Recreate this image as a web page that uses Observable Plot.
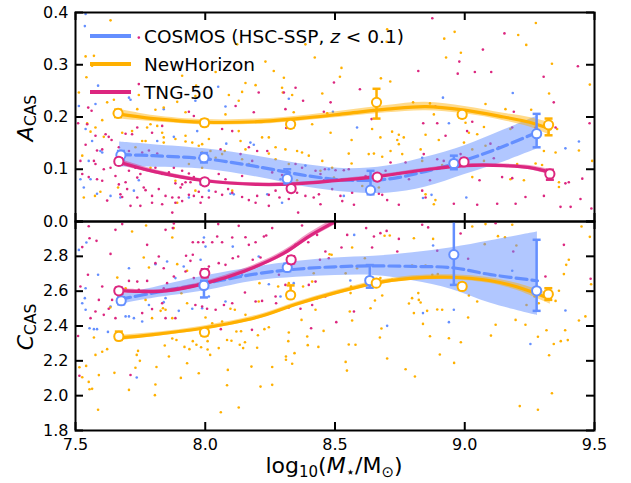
<!DOCTYPE html>
<html><head><meta charset="utf-8">
<script src="https://cdn.jsdelivr.net/npm/d3@7"></script>
<script src="https://cdn.jsdelivr.net/npm/@observablehq/plot@0.6"></script>
<style>
body{margin:0;background:#fff;}
#c{position:relative;width:631px;height:483px;background:#fff;}
#c svg{position:absolute;left:0;}
</style></head><body><div id="c"></div>
<script>
// ---------- data ----------
const seriesNames = ["COSMOS (HSC-SSP, z < 0.1)", "NewHorizon", "TNG-50"];
const seriesColors = ["#648FFF", "#FFB000", "#DC267F"];
const xTicks = [7.5, 8.0, 8.5, 9.0, 9.5];
const topYTicks = [0.0, 0.1, 0.2, 0.3, 0.4];
const botYTicks = [1.8, 2.0, 2.2, 2.4, 2.6, 2.8, 3.0];
const botYLabelTicks = [1.8, 2.0, 2.2, 2.4, 2.6, 2.8];

// scatter: [logM, A_CAS]
const topCosmosPts = [[7.539,0.397],[7.536,0.374],[7.587,0.260],[7.706,0.237],[7.712,0.233],[7.513,0.221],[7.577,0.225],[7.840,0.215],[7.962,0.231],[8.050,0.258],[8.078,0.220],[8.322,0.235],[8.492,0.210],[8.916,0.237],[9.185,0.246],
[7.539,0.177],[7.564,0.154],[7.596,0.135],[7.603,0.132],[7.519,0.081],[7.532,0.065],[7.558,0.081],[7.583,0.053],[7.635,0.049],[7.673,0.046],[7.725,0.059],[7.744,0.079],[7.815,0.154],[7.879,0.162],[7.969,0.173],[8.081,0.149],[8.174,0.151],[8.187,0.147],[8.386,0.107],[8.476,0.100],[8.290,0.081],[8.239,0.052],[8.296,0.036],[8.110,0.052],[8.014,0.059],[7.937,0.046],[7.982,0.071],[8.219,0.103],[8.097,0.053],[7.551,0.116],
[8.585,0.180],[8.939,0.188],[8.836,0.122],[8.872,0.051],[9.006,0.046],[8.839,0.045],[8.534,0.049],[9.440,0.153],[9.388,0.140]];
const topNHPts = [[7.635,0.385],[7.539,0.316],[7.571,0.317],[7.564,0.298],[7.542,0.276],[7.513,0.247],[7.622,0.228],[7.648,0.233],[7.744,0.242],[7.738,0.215],[7.808,0.214],[7.840,0.218],[7.892,0.229],[7.911,0.279],[7.924,0.209],[7.962,0.240],[7.965,0.260],[8.040,0.286],[8.123,0.339],[8.129,0.231],[8.142,0.248],[8.155,0.265],[8.194,0.261],[8.232,0.306],[8.264,0.288],[8.296,0.256],[8.303,0.275],[8.299,0.247],[8.335,0.242],[8.341,0.209],[8.386,0.339],[8.422,0.314],[8.451,0.245],[8.470,0.207],[8.078,0.205],[8.091,0.242],
[8.701,0.368],[8.961,0.363],[8.921,0.350],[9.206,0.357],[9.274,0.380],[9.237,0.338],[8.985,0.323],[8.928,0.314],[8.525,0.294],[8.519,0.277],[8.677,0.274],[8.713,0.268],[9.336,0.302],[9.482,0.262],[9.325,0.245],[8.801,0.228],[8.866,0.226],[9.080,0.225],[9.157,0.215],[9.256,0.214],[8.881,0.205],[8.699,0.344],
[7.545,0.188],[7.577,0.180],[7.558,0.172],[7.603,0.194],[7.609,0.162],[7.526,0.126],[7.532,0.046],[7.575,0.049],[7.596,0.057],[7.680,0.170],[7.718,0.173],[7.757,0.154],[7.770,0.154],[7.731,0.142],[7.776,0.180],[7.789,0.186],[7.815,0.183],[7.834,0.170],[7.840,0.161],[7.840,0.151],[7.885,0.158],[7.924,0.164],[7.924,0.153],[7.950,0.151],[7.975,0.145],[7.988,0.148],[8.014,0.158],[7.988,0.132],[8.020,0.135],[8.040,0.122],[8.065,0.129],[8.075,0.135],[8.129,0.173],[8.136,0.154],[8.155,0.138],[8.219,0.161],[8.245,0.161],[8.271,0.142],[8.309,0.138],[8.354,0.135],[8.373,0.132],[8.399,0.126],[8.412,0.186],[8.444,0.097],[8.451,0.116],[8.483,0.170],[8.489,0.103],[8.496,0.084],[8.354,0.079],[8.322,0.110],[8.271,0.119],[8.245,0.130],[8.168,0.110],[8.136,0.110],[8.104,0.059],[7.988,0.103],[7.937,0.110],[7.885,0.078],[7.892,0.036],[7.962,0.059],[7.664,0.065],[7.763,0.100],[7.789,0.103],[8.142,0.119],
[8.564,0.156],[8.553,0.130],[8.564,0.111],[8.643,0.177],[8.675,0.161],[8.720,0.172],[8.746,0.166],[8.746,0.148],[8.740,0.156],[8.759,0.129],[8.765,0.161],[8.849,0.166],[8.900,0.156],[9.016,0.170],[9.048,0.167],[9.074,0.181],[9.080,0.145],[9.029,0.138],[8.997,0.151],[9.003,0.189],[8.830,0.138],[8.714,0.135],[8.650,0.130],[8.630,0.129],[8.682,0.124],[8.836,0.116],[8.913,0.108],[9.074,0.116],[9.176,0.177],[9.202,0.110],[9.273,0.111],[9.305,0.135],[9.350,0.132],[9.356,0.177],[9.440,0.136],[9.491,0.116],[9.298,0.108],[9.363,0.075],[9.363,0.066],[9.228,0.079],[9.176,0.081],[8.887,0.041],[8.849,0.052],[9.029,0.085],[8.605,0.068],[8.624,0.062],[8.669,0.065],[8.881,0.033]];
const topTNGPts = [[7.744,0.352],[7.744,0.263],[7.549,0.218],[7.562,0.212],[7.937,0.210],[7.956,0.202],[8.117,0.221],[8.206,0.247],[8.303,0.247],[8.348,0.256],[8.377,0.231],[8.309,0.215],[8.187,0.209],[8.457,0.210],[8.483,0.228],[8.496,0.266],
[8.875,0.389],[9.153,0.360],[9.070,0.329],[8.979,0.306],[8.973,0.283],[9.039,0.286],[9.102,0.286],[8.821,0.288],[8.596,0.253],[9.304,0.277],[9.436,0.297],[9.343,0.228],[9.189,0.210],[8.887,0.220],
[7.510,0.188],[7.545,0.186],[7.577,0.164],[7.616,0.167],[7.628,0.162],[7.639,0.156],[7.693,0.168],[7.718,0.167],[7.738,0.180],[7.795,0.170],[7.834,0.183],[7.539,0.147],[7.583,0.136],[7.603,0.138],[7.667,0.142],[7.706,0.135],[7.757,0.132],[7.783,0.136],[7.815,0.130],[7.519,0.116],[7.571,0.116],[7.577,0.110],[7.609,0.100],[7.635,0.103],[7.654,0.087],[7.706,0.097],[7.731,0.103],[7.738,0.084],[7.750,0.091],[7.526,0.091],[7.551,0.085],[7.583,0.081],[7.603,0.078],[7.667,0.071],[7.693,0.075],[7.699,0.062],[7.673,0.052],[7.680,0.047],[7.738,0.046],[7.763,0.065],[7.770,0.060],[7.795,0.049],[7.821,0.062],[7.847,0.049],[7.873,0.046],[7.885,0.036],[7.898,0.046],[7.911,0.039],[7.937,0.051],[7.956,0.049],[7.975,0.057],[7.988,0.047],[7.982,0.036],[8.014,0.046],[8.040,0.057],[8.065,0.051],[8.088,0.062],[8.104,0.055],[8.142,0.047],[8.168,0.041],[8.194,0.036],[8.200,0.049],[8.245,0.051],[8.271,0.059],[8.286,0.046],[8.322,0.043],[8.354,0.055],[8.386,0.049],[8.418,0.046],[8.438,0.052],[8.444,0.033],[8.489,0.062],[7.795,0.036],[7.750,0.030],[7.712,0.030],[7.622,0.040],[7.834,0.033],[7.873,0.017],[7.905,0.065],[7.924,0.075],[7.943,0.075],[7.885,0.087],[7.860,0.094],[7.834,0.091],[7.808,0.103],[7.879,0.103],[7.911,0.097],[7.937,0.092],[7.956,0.085],[8.104,0.113],[8.142,0.087],[8.078,0.081],[8.052,0.091],[8.059,0.138],[8.065,0.177],[8.104,0.173],[8.136,0.129],[8.168,0.142],[8.200,0.135],[8.239,0.135],[8.181,0.116],[8.258,0.094],[8.296,0.089],[8.348,0.110],[8.373,0.103],[8.425,0.097],[8.444,0.091],[8.457,0.079],[8.461,0.100],[8.312,0.179],[8.358,0.017],[8.245,0.030],[7.885,0.073],[7.911,0.071],
[8.641,0.196],[8.840,0.188],[8.894,0.188],[9.029,0.191],[9.009,0.173],[8.926,0.164],[8.842,0.129],[8.772,0.113],[8.714,0.113],[8.894,0.119],[8.919,0.116],[8.984,0.129],[9.099,0.149],[9.131,0.142],[9.112,0.121],[9.183,0.180],[9.273,0.180],[9.350,0.180],[9.481,0.188],[8.502,0.098],[8.534,0.098],[8.553,0.100],[8.618,0.087],[8.695,0.097],[8.740,0.092],[8.785,0.081],[8.866,0.079],[9.057,0.079],[9.144,0.085],[9.183,0.083],[9.453,0.082],[9.401,0.075],[9.388,0.073],[9.488,0.025],[9.446,0.043],[9.408,0.028],[9.369,0.028],[9.305,0.049],[9.234,0.047],[9.196,0.034],[9.125,0.034],[9.048,0.032],[8.958,0.034],[8.849,0.046],[8.836,0.059],[8.746,0.032],[8.701,0.041],[8.682,0.051],[8.669,0.053],[8.566,0.055],[8.521,0.049],[8.573,0.032],[8.528,0.039]];

// scatter: [logM, C_CAS]
const botCosmosPts = [[7.542,2.879],[7.513,2.837],[7.706,2.732],[7.808,2.755],[7.853,2.770],[7.885,2.675],[7.917,2.742],[7.982,2.780],[7.995,2.908],[8.001,2.856],[8.106,2.856],[8.187,2.736],[8.206,2.799],[8.341,2.646],[8.290,2.569],[8.245,2.640],[8.142,2.694],[8.078,2.541],[8.014,2.569],[7.988,2.502],[7.950,2.499],[7.898,2.487],[7.840,2.537],[7.847,2.560],[7.783,2.521],[7.725,2.445],[7.706,2.455],[7.693,2.455],[7.757,2.426],[7.635,2.512],[7.587,2.694],[7.539,2.617],[7.526,2.531],[7.539,2.493],[7.536,2.560],
[8.574,2.923],[8.878,2.862],[8.559,2.661],[9.183,2.717],[8.839,2.474],[8.939,2.422],[8.958,2.493],[9.388,2.489],[8.701,2.401],
[7.554,2.387],[7.571,2.382],[7.583,2.382],[7.625,2.366],[7.736,2.104],[9.253,2.297]];
const botNHPts = [[7.772,2.977],[7.718,2.943],[7.879,2.962],[7.873,2.908],[7.763,2.793],[7.783,2.736],[7.892,2.755],[7.930,2.717],[7.908,2.588],[7.930,2.531],[8.001,2.449],[8.027,2.416],[8.065,2.426],[8.093,2.416],[8.097,2.499],[8.114,2.493],[8.155,2.464],[8.209,2.646],[8.206,2.541],[8.281,2.627],[8.322,2.646],[8.377,2.627],[8.412,2.655],[8.418,2.703],[8.425,2.493],[8.371,2.435],[8.479,2.812],[8.487,2.809],[7.661,2.678],[7.770,2.550],[7.795,2.445],[7.828,2.487],[7.837,2.502],[7.873,2.445],[7.847,2.493],[7.693,2.617],[7.634,2.506],
[8.691,2.918],[8.711,2.920],[8.804,2.904],[8.878,2.900],[9.029,2.971],[9.080,2.985],[9.128,2.916],[9.155,2.910],[9.183,2.981],[9.077,2.870],[9.199,2.862],[8.566,2.851],[8.615,2.789],[8.797,2.747],[8.849,2.747],[8.896,2.698],[8.842,2.678],[8.875,2.694],[8.541,2.703],[8.585,2.732],[8.675,2.675],[8.720,2.665],[8.562,2.627],[8.560,2.589],[8.682,2.575],[8.654,2.546],[8.637,2.502],[8.557,2.483],[8.566,2.432],[8.785,2.529],[8.821,2.589],[8.823,2.550],[8.797,2.560],[8.830,2.535],[8.804,2.474],[8.855,2.487],[8.894,2.495],[8.913,2.493],[8.839,2.412],[9.016,2.575],[9.048,2.541],[9.013,2.449],[9.119,2.407],[9.196,2.435],[9.234,2.407],[9.269,2.569],[9.285,2.531],[9.350,2.544],[9.363,2.602],[9.382,2.698],[9.391,2.751],[9.401,2.780],[9.450,2.971],[9.482,2.912],[9.487,2.640],[9.440,2.432],[9.465,2.455],[9.238,2.521],
[7.571,2.334],[7.622,2.267],[7.603,2.252],[7.577,2.234],[7.515,2.163],[7.541,2.171],[7.526,2.106],[7.590,2.118],[7.650,2.131],[7.551,2.079],[7.554,2.037],[7.564,2.039],[7.706,2.033],[7.587,1.919],[7.741,2.257],[7.736,2.234],[7.748,2.200],[7.731,2.160],[7.812,2.165],[7.808,2.064],[7.806,2.003],[7.860,2.225],[7.844,2.288],[7.889,2.320],[7.873,2.328],[7.920,2.280],[7.939,2.267],[7.952,2.313],[7.966,2.292],[7.984,2.278],[8.009,2.313],[8.019,2.234],[8.009,2.265],[7.930,2.186],[7.975,2.129],[7.906,2.102],[8.052,2.273],[8.084,2.320],[8.101,2.315],[8.120,2.368],[8.138,2.370],[8.153,2.307],[8.133,2.292],[8.146,2.273],[8.200,2.275],[8.203,2.347],[8.178,2.167],[8.087,2.148],[8.084,2.060],[8.060,1.905],[8.129,1.932],[8.228,2.382],[8.245,2.393],[8.213,2.052],[8.258,2.165],[8.258,2.062],[8.322,2.363],[8.320,2.313],[8.311,2.225],[8.311,2.206],[8.335,2.183],[8.344,2.244],[8.395,2.290],[8.436,2.280],[8.456,2.372],[8.393,2.340],
[8.553,2.294],[8.579,2.292],[8.541,2.194],[8.546,2.144],[8.679,2.386],[8.673,2.334],[8.701,2.213],[8.772,2.152],[8.808,2.110],[8.866,2.341],[8.939,2.330],[8.985,2.307],[8.904,2.236],[8.959,2.188],[9.101,2.345],[9.282,2.338],[9.315,2.376],[9.387,2.376],[9.343,2.297],[9.370,2.313],[9.397,2.319],[9.325,2.232],[9.336,2.014],[9.212,1.940],[9.282,1.919]];
const botTNGPts = [[7.551,2.973],[7.654,2.952],[7.680,2.985],[7.847,2.952],[7.875,2.962],[7.879,2.989],[8.050,2.985],[8.129,2.975],[8.258,2.962],[8.373,2.977],[7.581,2.889],[7.635,2.814],[7.526,2.853],[7.554,2.904],[7.776,2.866],[7.821,2.799],[7.808,2.761],[7.840,2.732],[7.952,2.881],[7.973,2.881],[7.992,2.881],[8.027,2.881],[8.046,2.914],[8.065,2.881],[8.104,2.908],[8.155,2.910],[8.168,2.866],[8.194,2.881],[8.226,2.914],[8.235,2.920],[8.127,2.799],[8.106,2.789],[8.183,2.780],[8.213,2.793],[8.078,2.751],[8.052,2.761],[8.014,2.742],[7.943,2.774],[7.926,2.803],[7.952,2.809],[7.924,2.713],[7.956,2.675],[7.879,2.684],[7.853,2.646],[7.840,2.617],[7.834,2.531],[7.776,2.659],[7.738,2.655],[7.706,2.659],[7.744,2.608],[7.680,2.583],[7.641,2.550],[7.628,2.499],[7.590,2.550],[7.577,2.483],[7.558,2.445],[7.609,2.464],[7.654,2.445],[7.757,2.474],[7.795,2.497],[7.847,2.445],[7.885,2.445],[7.962,2.521],[7.988,2.512],[8.007,2.499],[8.040,2.493],[8.072,2.521],[8.104,2.531],[8.153,2.592],[8.194,2.541],[8.219,2.544],[8.273,2.531],[8.322,2.506],[8.367,2.499],[8.412,2.521],[8.431,2.560],[8.463,2.569],[8.425,2.655],[8.399,2.636],[8.309,2.636],[8.284,2.694],[8.271,2.569],[8.348,2.866],[8.397,2.881],[8.431,2.923],[8.442,2.780],[8.463,2.828],[8.476,2.789],[7.519,2.627],[7.548,2.694],[7.603,2.627],
[8.620,2.962],[8.547,2.923],[8.675,2.933],[8.699,2.946],[8.650,2.914],[8.746,2.900],[8.525,2.851],[8.643,2.851],[8.740,2.828],[8.836,2.981],[8.859,2.966],[8.894,2.832],[8.984,2.931],[9.013,2.786],[9.119,2.990],[9.187,2.828],[9.382,2.866],[9.311,2.684],[9.485,2.671],[8.573,2.483],[8.505,2.422],
[7.510,2.343],[7.515,2.114],[7.712,2.119],[8.060,2.382],[8.180,2.378],[8.408,2.387]];

// fitted trends: [logM, median, lower, upper]
const topCosmosFit = [[7.67,0.128,0.104,0.152],[7.8,0.126,0.104,0.147],[8.0,0.12,0.1,0.139],[8.2,0.105,0.085,0.125],[8.4,0.087,0.065,0.108],[8.55,0.079,0.056,0.101],[8.7,0.081,0.054,0.106],[8.85,0.096,0.066,0.123],[9.0,0.117,0.09,0.145],[9.15,0.144,0.114,0.175],[9.28,0.171,0.139,0.202]];
const topNHFit = [[7.66,0.206,0.196,0.216],[7.8,0.197,0.191,0.203],[8.0,0.19,0.185,0.195],[8.2,0.191,0.186,0.196],[8.4,0.199,0.194,0.204],[8.55,0.207,0.201,0.213],[8.7,0.215,0.208,0.222],[8.85,0.22,0.212,0.228],[9.0,0.213,0.206,0.22],[9.15,0.2,0.193,0.207],[9.25,0.19,0.181,0.199],[9.33,0.177,0.165,0.189]];
const topTNGFit = [[7.66,0.115,0.109,0.121],[7.8,0.096,0.092,0.1],[8.0,0.078,0.075,0.081],[8.2,0.071,0.068,0.074],[8.35,0.072,0.069,0.075],[8.5,0.078,0.075,0.081],[8.66,0.086,0.083,0.089],[8.85,0.099,0.096,0.102],[9.0,0.107,0.104,0.11],[9.15,0.107,0.104,0.11],[9.25,0.103,0.099,0.107],[9.33,0.094,0.089,0.099]];
const botCosmosFit = [[7.67,2.553,2.525,2.582],[7.8,2.59,2.56,2.62],[8.0,2.645,2.603,2.688],[8.2,2.70,2.66,2.74],[8.35,2.726,2.68,2.77],[8.5,2.74,2.69,2.79],[8.65,2.745,2.69,2.80],[8.8,2.742,2.66,2.82],[8.95,2.735,2.61,2.85],[9.1,2.695,2.53,2.89],[9.28,2.66,2.46,2.94]];
const botNHFit = [[7.66,2.33,2.315,2.345],[7.8,2.35,2.338,2.362],[8.0,2.39,2.378,2.402],[8.2,2.45,2.438,2.462],[8.35,2.525,2.513,2.537],[8.5,2.59,2.578,2.602],[8.65,2.645,2.633,2.657],[8.8,2.675,2.662,2.688],[8.95,2.68,2.666,2.694],[9.1,2.66,2.644,2.676],[9.2,2.625,2.605,2.645],[9.33,2.555,2.525,2.585]];
const botTNGFit = [[7.66,2.605,2.593,2.617],[7.75,2.598,2.587,2.609],[7.85,2.602,2.591,2.613],[8.0,2.645,2.633,2.657],[8.15,2.715,2.702,2.728],[8.3,2.815,2.8,2.83],[8.4,2.915,2.898,2.932],[8.5,3.0,2.98,3.02],[8.6,3.09,3.065,3.115]];

// binned medians with errors: [logM, value, lower, upper]
const topCosmosBins = [[7.675,0.127,0.118,0.135],[7.995,0.122,0.113,0.131],[8.316,0.082,0.073,0.100],[8.637,0.060,0.052,0.097],[8.958,0.111,0.100,0.126],[9.277,0.168,0.142,0.206]];
const topNHBins = [[7.664,0.207,0.200,0.214],[7.997,0.189,0.183,0.195],[8.329,0.186,0.180,0.193],[8.660,0.228,0.197,0.254],[8.990,0.205,0.199,0.211],[9.323,0.185,0.165,0.197]];
const topTNGBins = [[7.667,0.115,0.109,0.121],[7.998,0.076,0.071,0.081],[8.331,0.063,0.058,0.068],[8.663,0.085,0.080,0.090],[8.997,0.114,0.108,0.120],[9.328,0.091,0.080,0.099]];
const botCosmosBins = [[7.676,2.545,2.525,2.565],[7.995,2.633,2.564,2.66],[8.316,2.736,2.715,2.757],[8.634,2.661,2.62,2.75],[8.958,2.81,2.636,3.05],[9.277,2.602,2.487,2.895]];
const botNHBins = [[7.667,2.34,2.32,2.368],[7.997,2.364,2.345,2.385],[8.329,2.578,2.56,2.633],[8.659,2.646,2.63,2.665],[8.990,2.627,2.61,2.645],[9.322,2.583,2.55,2.617]];
const botTNGBins = [[7.667,2.602,2.585,2.62],[7.998,2.703,2.68,2.726],[8.331,2.78,2.76,2.80]];

// ---------- drawing ----------
const W = 631, ML = 75, MR = 37;
const FONT = '"DejaVu Sans", sans-serif';
const rows = arr => arr.map(([x, y, lo, hi]) => ({x, y, lo, hi}));
const capSymbol = {draw(ctx, size) { const r = Math.sqrt(size / Math.PI); ctx.moveTo(-r, 0); ctx.lineTo(r, 0); }};

function panel({height, marginTop, marginBottom, yDomain, yTicks, yLabelTicks, scatters, fits, bins, xLabels}) {
  const frameW = W - ML - MR, frameH = height - marginTop - marginBottom;
  const marks = [];
  scatters.forEach((pts, i) => marks.push(Plot.dot(pts, {x: d => d[0], y: d => d[1], r: 1.3, fill: seriesColors[i], clip: true})));
  fits.forEach((f, i) => {
    const R = rows(f);
    marks.push(Plot.areaY(R, {x: "x", y1: "lo", y2: "hi", fill: seriesColors[i], fillOpacity: i === 0 ? 0.5 : 0.45, curve: "catmull-rom", clip: true}));
    marks.push(Plot.line(R, {x: "x", y: "y", stroke: seriesColors[i], strokeWidth: 3.2, strokeDasharray: i === 0 ? "11,5" : null, curve: "catmull-rom", clip: true}));
  });
  bins.forEach((b, i) => {
    const R = rows(b);
    marks.push(Plot.ruleX(R, {x: "x", y1: "lo", y2: "hi", stroke: seriesColors[i], strokeWidth: 2.5, clip: true}));
    marks.push(Plot.dot(R, {x: "x", y: "lo", symbol: capSymbol, r: 4, stroke: seriesColors[i], strokeWidth: 2.5, fill: "none", clip: true}));
    marks.push(Plot.dot(R, {x: "x", y: "hi", symbol: capSymbol, r: 4, stroke: seriesColors[i], strokeWidth: 2.5, fill: "none", clip: true}));
    marks.push(Plot.dot(R, {x: "x", y: "y", r: 4.6, stroke: seriesColors[i], strokeWidth: 2, fill: "white"}));
  });
  marks.push(Plot.tickX(xTicks, {x: d => d, insetTop: frameH - 8, stroke: "black", strokeWidth: 2}));
  marks.push(Plot.tickX(xTicks, {x: d => d, insetBottom: frameH - 8, stroke: "black", strokeWidth: 2}));
  marks.push(Plot.tickY(yTicks, {y: d => d, insetRight: frameW - 8, stroke: "black", strokeWidth: 2}));
  marks.push(Plot.tickY(yTicks, {y: d => d, insetLeft: frameW - 8, stroke: "black", strokeWidth: 2}));
  marks.push(Plot.frame({stroke: "black", strokeWidth: 2}));
  marks.push(Plot.axisY({ticks: yLabelTicks, tickSize: 0, tickPadding: 7, tickFormat: d3.format(".1f"), fontSize: 16, label: null}));
  if (xLabels) marks.push(Plot.axisX({ticks: xTicks, tickSize: 0, tickPadding: 8, tickFormat: d3.format(".1f"), fontSize: 16, label: null}));
  return Plot.plot({
    width: W, height, marginLeft: ML, marginRight: MR, marginTop, marginBottom,
    x: {domain: [7.5, 9.5], axis: null},
    y: {domain: yDomain, axis: null},
    style: {background: "transparent", fontFamily: FONT, fontSize: "16px", overflow: "visible", color: "black"},
    marks
  });
}

const container = document.getElementById("c");
const topSvg = panel({height: 232, marginTop: 12, marginBottom: 11, yDomain: [0, 0.4], yTicks: topYTicks, yLabelTicks: topYTicks,
  scatters: [topCosmosPts, topNHPts, topTNGPts], fits: [topCosmosFit, topNHFit, topTNGFit], bins: [topCosmosBins, topNHBins, topTNGBins], xLabels: false});
topSvg.style.top = "0px";
container.appendChild(topSvg);
const botSvg = panel({height: 274, marginTop: 12, marginBottom: 53, yDomain: [1.8, 3.0], yTicks: botYTicks, yLabelTicks: botYLabelTicks,
  scatters: [botCosmosPts, botNHPts, botTNGPts], fits: [botCosmosFit, botNHFit, botTNGFit], bins: [botCosmosBins, botNHBins, botTNGBins], xLabels: true});
botSvg.style.top = "209px";
container.appendChild(botSvg);

// y-axis labels
function yLabel(svg, letter) {
  const t = d3.select(svg).append("text").attr("transform", "translate(33,118) rotate(-90)")
    .attr("text-anchor", "middle").attr("font-family", FONT).attr("fill", "black");
  t.append("tspan").attr("font-size", 22).attr("font-style", "italic").text(letter);
  t.append("tspan").attr("font-size", 15.5).attr("dy", 3).text("CAS");
}
yLabel(topSvg, "A");
yLabel(botSvg, "C");

// x-axis label
{
  const t = d3.select(botSvg).append("text").attr("x", 334).attr("y", 264).attr("text-anchor", "middle")
    .attr("font-family", FONT).attr("font-size", 22).attr("fill", "black");
  t.append("tspan").text("log");
  t.append("tspan").attr("font-size", 15).attr("dy", 4).text("10");
  t.append("tspan").attr("dy", -4).text("(");
  t.append("tspan").attr("font-style", "italic").text("M");
  t.append("tspan").attr("font-size", 15).attr("dy", 4).text("⋆");
  t.append("tspan").attr("dy", -4).text("/M");
  t.append("tspan").attr("font-size", 15).attr("dy", 4).text("⊙");
  t.append("tspan").attr("dy", -4).text(")");
}

// legend
{
  const g = d3.select(topSvg).append("g").attr("font-family", FONT).attr("font-size", 18.5)
    .attr("fill", "black").attr("text-anchor", "start");
  seriesNames.forEach((name, i) => {
    const y = 36 + i * 28;
    g.append("line").attr("x1", 90).attr("x2", 131).attr("y1", y).attr("y2", y)
      .attr("stroke", seriesColors[i]).attr("stroke-width", 4);
    const t = g.append("text").attr("x", 144).attr("y", y + 7).attr("text-anchor", "start");
    if (i === 0) {
      const parts = name.split("z");
      t.append("tspan").text(parts[0]);
      t.append("tspan").attr("font-style", "italic").text("z");
      t.append("tspan").text(parts[1]);
    } else {
      t.text(name);
    }
  });
}
</script></body></html>
